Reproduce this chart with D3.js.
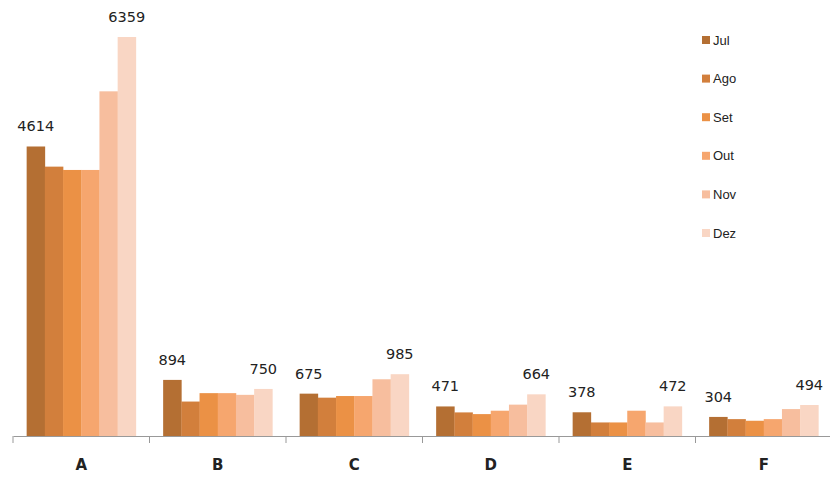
<!DOCTYPE html>
<html>
<head>
<meta charset="utf-8">
<script src="https://cdn.jsdelivr.net/npm/d3@7"></script>
<style>
  body { margin: 0; background: #fff; }
</style>
</head>
<body>
<svg id="chart" width="830" height="477"></svg>
<script>
const categories = ["A", "B", "C", "D", "E", "F"];
const months = ["Jul", "Ago", "Set", "Out", "Nov", "Dez"];
const colors = ["#b46f33", "#d27f3c", "#eb9145", "#f6a66e", "#f7be9e", "#f9d6c4"];

// one row per category, one value per month
const jul = [4614, 894, 675, 471, 378, 304];
const ago = [4293, 549, 611, 376, 216, 269];
const set = [4240, 683, 637, 349, 216, 243];
const out = [4240, 683, 637, 403, 403, 269];
const nov = [5493, 656, 904, 500, 216, 429];
const dez = [6359, 750, 985, 664, 472, 494];
const series = [jul, ago, set, out, nov, dez];

const svg = d3.select("#chart");

const x = d3.scaleBand()
    .domain(categories)
    .range([13, 832]);

const xSub = d3.scaleBand()
    .domain(months)
    .range([x.bandwidth() * 0.1, x.bandwidth() * 0.9]);

const y = d3.scaleLinear()
    .domain([0, 6359])
    .range([436, 37]);

const groups = svg.selectAll(".grp")
    .data(categories)
    .enter().append("g")
    .attr("class", "grp")
    .attr("transform", d => `translate(${x(d)},0)`);

groups.selectAll("rect")
    .data((c, ci) => months.map((m, mi) => ({ m, mi, v: series[mi][ci] })))
    .enter().append("rect")
    .attr("x", d => xSub(d.m))
    .attr("width", xSub.bandwidth() + 0.3)
    .attr("y", d => y(d.v))
    .attr("height", d => y(0) - y(d.v))
    .attr("fill", d => colors[d.mi]);

// value labels only on first and last month
groups.selectAll("text.val")
    .data((c, ci) => [0, 5].map(mi => ({ m: months[mi], v: series[mi][ci] })))
    .enter().append("text")
    .attr("class", "val")
    .attr("x", d => xSub(d.m) + xSub.bandwidth() / 2)
    .attr("y", d => y(d.v) - 15)
    .attr("text-anchor", "middle")
    .attr("font-family", "DejaVu Sans, sans-serif")
    .attr("font-size", 14.5)
    .attr("fill", "#222")
    .text(d => d.v);

// axis
const axis = svg.append("g")
    .attr("transform", `translate(0,${y(0)})`)
    .call(d3.axisBottom(x).tickSize(0).tickPadding(23));
axis.select(".domain").attr("stroke", "#999");
axis.selectAll(".tick text")
    .attr("font-family", "DejaVu Sans, sans-serif")
    .attr("font-size", 15)
    .attr("font-weight", "bold")
    .attr("fill", "#222");
svg.append("g").selectAll("line")
    .data(categories.concat(["end"]))
    .enter().append("line")
    .attr("x1", (d, i) => 13 + i * x.step())
    .attr("x2", (d, i) => 13 + i * x.step())
    .attr("y1", y(0))
    .attr("y2", y(0) + 7)
    .attr("stroke", "#999");

// legend
const legend = svg.append("g")
    .selectAll("g")
    .data(months)
    .enter().append("g")
    .attr("transform", (d, i) => `translate(702,${40 + i * 38.6})`);
legend.append("rect")
    .attr("x", 0).attr("y", -4)
    .attr("width", 8).attr("height", 8)
    .attr("fill", (d, i) => colors[i]);
legend.append("text")
    .attr("x", 11).attr("y", 4.5)
    .attr("font-family", "Liberation Sans, sans-serif")
    .attr("font-size", 13)
    .attr("fill", "#222")
    .text(d => d);
</script>
</body>
</html>
